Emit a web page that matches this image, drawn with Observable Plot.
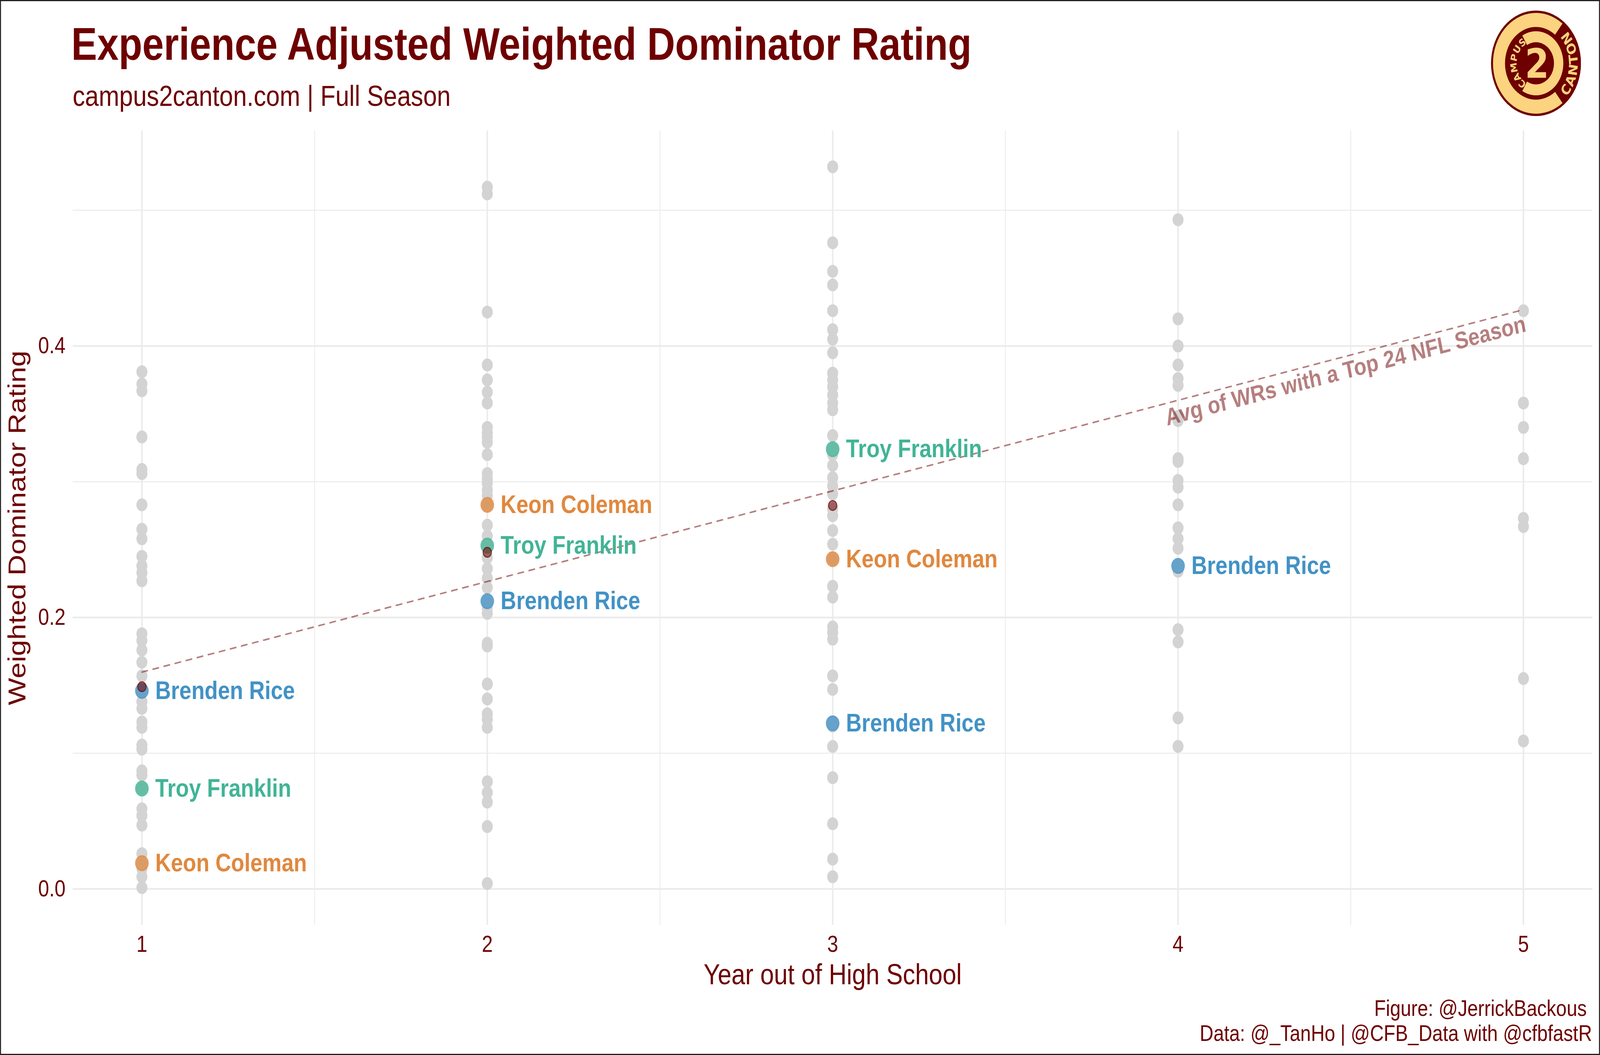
<!DOCTYPE html>
<html>
<head>
<meta charset="utf-8">
<script src="https://cdn.jsdelivr.net/npm/d3@7"></script>
<script src="https://cdn.jsdelivr.net/npm/@observablehq/plot@0.6"></script>
<style>
  html, body { margin: 0; padding: 0; background: #fff; overflow: hidden; }
  #wrap { position: relative; overflow: hidden; width: 4800px; height: 2700px; }
  #page { position: absolute; left: 0; top: 0; width: 4800px; height: 2700px; background: #fff; overflow: hidden;
          transform-origin: 0 0;
          font-family: 'Liberation Sans', Arial, Helvetica, sans-serif; color: #6e0000; }
  #frame { position: absolute; left: 0; top: 0; width: 4800px; height: 2700px; box-sizing: border-box;
           border: 3px solid #222; pointer-events: none; }
  #header { position: relative; height: 300px; }
  #title { position: absolute; left: 214px; top: 55px; font-size: 116px; font-weight: bold; line-height: 1; white-space: nowrap; }
  #subtitle { position: absolute; left: 218px; top: 209px; font-size: 74px; line-height: 1; white-space: nowrap; }
  #logo { position: absolute; left: 4473px; top: 27px; width: 270px; height: 270px; }
  #chart { height: 2240px; }
  #chart svg { display: block; }
  #footer { height: 160px; box-sizing: border-box; text-align: right; padding-right: 24px; padding-top: 8px;
            font-size: 57px; line-height: 64px; }
</style>
</head>
<body>
<div id="wrap">
<div id="page">
  <div id="header">
    <div id="title">Experience Adjusted Weighted Dominator Rating</div>
    <div id="subtitle">campus2canton.com | Full Season</div>
    <div id="logo"></div>
  </div>
  <div id="chart"></div>
  <div id="footer">Figure: @JerrickBackous&nbsp;<br>Data: @_TanHo | @CFB_Data with @cfbfastR</div>
  <div id="frame"></div>
</div>
</div>
<script>
// ---------------- data ----------------
const yearTicks = [1, 2, 3, 4, 5];
const yTicks = [0, 0.2, 0.4];
const yMinorTicks = [0.1, 0.3, 0.5];
const xMinorTicks = [1.5, 2.5, 3.5, 4.5];

// all WRs (grey) by year out of high school
const year1Values = [0.381, 0.372, 0.367, 0.333, 0.309, 0.306, 0.283, 0.265, 0.258, 0.245, 0.238, 0.233, 0.227,
  0.188, 0.183, 0.176, 0.167, 0.157, 0.146, 0.138, 0.133, 0.123, 0.119, 0.106, 0.103, 0.087, 0.084, 0.074,
  0.059, 0.054, 0.047, 0.026, 0.019, 0.015, 0.009, 0.001];
const year2Values = [0.517, 0.512, 0.425, 0.386, 0.375, 0.366, 0.358, 0.340, 0.336, 0.333, 0.329, 0.320, 0.306,
  0.302, 0.299, 0.294, 0.290, 0.283, 0.268, 0.260, 0.253, 0.244, 0.236, 0.229, 0.222, 0.212, 0.207, 0.203,
  0.181, 0.179, 0.151, 0.140, 0.129, 0.125, 0.119, 0.079, 0.071, 0.064, 0.046, 0.004];
const year3Values = [0.532, 0.476, 0.455, 0.445, 0.426, 0.412, 0.405, 0.395, 0.380, 0.375, 0.370, 0.364, 0.358,
  0.353, 0.334, 0.324, 0.320, 0.312, 0.303, 0.297, 0.291, 0.280, 0.275, 0.264, 0.254, 0.243, 0.223, 0.215,
  0.193, 0.189, 0.184, 0.157, 0.147, 0.123, 0.120, 0.105, 0.082, 0.048, 0.022, 0.009];
const year4Values = [0.493, 0.420, 0.400, 0.386, 0.376, 0.371, 0.348, 0.345, 0.317, 0.315, 0.301, 0.296, 0.283,
  0.266, 0.258, 0.251, 0.238, 0.234, 0.191, 0.182, 0.126, 0.105];
const year5Values = [0.426, 0.358, 0.340, 0.317, 0.273, 0.267, 0.155, 0.109];

// highlighted players
const playerNames = ["Brenden Rice", "Troy Franklin", "Keon Coleman"];
const riceYears = [1, 2, 3, 4];
const riceValues = [0.146, 0.212, 0.122, 0.238];
const franklinYears = [1, 2, 3];
const franklinValues = [0.074, 0.253, 0.324];
const colemanYears = [1, 2, 3];
const colemanValues = [0.019, 0.283, 0.243];

// average of WRs with a top-24 NFL season
const avgYears = [1, 2, 3];
const avgValues = [0.149, 0.248, 0.2825];
const avgLabel = "Avg of WRs with a Top 24 NFL Season";

// ---------------- styles ----------------
const maroon = "#6e0000";
const playerColors = { "Brenden Rice": "#4292c6", "Troy Franklin": "#41b496", "Keon Coleman": "#e0883f" };

// ---------------- fit the 4800x2700 page to the window ----------------
function fitPage() {
  const sx = window.innerWidth / 4800, sy = window.innerHeight / 2700;
  const wrap = document.getElementById("wrap");
  wrap.style.width = window.innerWidth + "px";
  wrap.style.height = window.innerHeight + "px";
  document.getElementById("page").style.transform = `scale(${sx}, ${sy})`;
}
fitPage();
window.addEventListener("resize", fitPage);

// ---------------- build tables ----------------
const allValues = [year1Values, year2Values, year3Values, year4Values, year5Values];
const greyPts = allValues.flatMap((vals, i) => vals.map(v => ({ year: yearTicks[i], value: v })));
const playerSeries = [[riceYears, riceValues], [franklinYears, franklinValues], [colemanYears, colemanValues]];
const playerPts = playerSeries.flatMap(([ys, vs], i) => ys.map((y, j) => ({ year: y, value: vs[j], player: playerNames[i] })));
const avgPts = avgYears.map((y, i) => ({ year: y, value: avgValues[i] }));

// linear fit through the averages, extended across all years
const mx = d3.mean(avgYears), my = d3.mean(avgValues);
const slope = d3.sum(avgYears, (x, i) => (x - mx) * (avgValues[i] - my)) / d3.sum(avgYears, x => (x - mx) ** 2);
const intercept = my - slope * mx;
const fit = x => intercept + slope * x;
const trend = d3.extent(yearTicks).map(x => ({ year: x, value: fit(x) }));

// ---------------- layout ----------------
const W = 4800, H = 2240;
const mL = 218, mR = 23, mT = 34, mB = 173;
const xDomain = [0.8, 5.2];
const yDomain = [-0.0266, 0.5586];
const pxPerX = (W - mL - mR) / (xDomain[1] - xDomain[0]);
const pxPerY = (H - mT - mB) / (yDomain[1] - yDomain[0]);
const labelAngle = -Math.atan(slope * pxPerY / pxPerX) * 180 / Math.PI;
const labelX = 4.485;
const labelAnno = [{ year: labelX, value: fit(labelX) - 0.0108, text: avgLabel }];

const chart = Plot.plot({
  width: W,
  height: H,
  marginLeft: mL, marginRight: mR, marginTop: mT, marginBottom: mB,
  style: { fontFamily: "'Liberation Sans', Arial, Helvetica, sans-serif", background: "#fff", overflow: "visible" },
  x: { domain: xDomain },
  y: { domain: yDomain },
  marks: [
    Plot.gridX(xMinorTicks, { stroke: "#ebebeb", strokeOpacity: 1, strokeWidth: 2.5 }),
    Plot.gridY(yMinorTicks, { stroke: "#ebebeb", strokeOpacity: 1, strokeWidth: 2.5 }),
    Plot.gridX(yearTicks, { stroke: "#ebebeb", strokeOpacity: 1, strokeWidth: 4.5 }),
    Plot.gridY(yTicks, { stroke: "#ebebeb", strokeOpacity: 1, strokeWidth: 4.5 }),
    Plot.axisX(yearTicks, { tickSize: 0, tickPadding: 27, fontSize: 59, color: maroon, label: null, tickFormat: d => String(d) }),
    Plot.axisY(yTicks, { tickSize: 0, tickPadding: 22, fontSize: 59, color: maroon, label: null, tickFormat: d => d.toFixed(1) }),
    Plot.text(["Year out of High School"], { frameAnchor: "bottom", dy: 128, fontSize: 74, fill: maroon, lineAnchor: "middle" }),
    Plot.text(["Weighted Dominator Rating"], { frameAnchor: "left", dx: -166, rotate: -90, fontSize: 74, fill: maroon, lineAnchor: "middle", textAnchor: "middle" }),
    Plot.dot(greyPts, { x: "year", y: "value", r: 16.5, fill: "#d3d3d3", stroke: "none" }),
    Plot.line(trend, { x: "year", y: "value", stroke: maroon, strokeOpacity: 0.5, strokeWidth: 4, strokeDasharray: "17,17" }),
    Plot.text(labelAnno, { x: "year", y: "value", text: "text", rotate: labelAngle, fontSize: 61, fontWeight: "bold", fill: maroon, fillOpacity: 0.5, textAnchor: "middle", lineAnchor: "middle" }),
    Plot.dot(playerPts, { x: "year", y: "value", r: 19, fill: d => playerColors[d.player], fillOpacity: 0.75, stroke: d => playerColors[d.player], strokeOpacity: 0.7, strokeWidth: 3 }),
    Plot.dot(avgPts, { x: "year", y: "value", r: 12.5, fill: maroon, fillOpacity: 0.55, stroke: maroon, strokeOpacity: 0.7, strokeWidth: 3 }),
    Plot.text(playerPts, { x: "year", y: "value", text: "player", dx: 40, textAnchor: "start", lineAnchor: "middle", fontSize: 65, fontWeight: "bold", fill: d => playerColors[d.player] })
  ]
});
document.getElementById("chart").appendChild(chart);

// ---------------- logo ----------------
const gold = "#fcd37f";
const deg = Math.PI / 180;
const svg = d3.select("#logo").append("svg").attr("width", 270).attr("height", 270).attr("viewBox", "0 0 270 270");
const g = svg.append("g").attr("transform", "translate(135,135)");
g.append("circle").attr("r", 135).attr("fill", maroon);
g.append("path").attr("fill", gold).attr("d", d3.arc()({ innerRadius: 93, outerRadius: 129, startAngle: 142 * deg, endAngle: 398 * deg }));
g.append("path").attr("fill", gold).attr("d", d3.arc()({ innerRadius: 54, outerRadius: 82, startAngle: -30 * deg, endAngle: 210 * deg }));
const defs = svg.append("defs");
const arcPath = (r, a0, a1, sweep) => `M${135 + r * Math.cos(a0 * deg)},${135 + r * Math.sin(a0 * deg)} A${r},${r} 0 0 ${sweep} ${135 + r * Math.cos(a1 * deg)},${135 + r * Math.sin(a1 * deg)}`;
defs.append("path").attr("id", "cantonPath").attr("d", arcPath(125, 50, -50, 0));
defs.append("path").attr("id", "campusPath").attr("d", arcPath(58, 118, 242, 1));
svg.append("text").attr("font-family", "'DejaVu Sans', sans-serif").attr("font-weight", "bold").attr("font-size", 36)
  .attr("fill", gold).attr("letter-spacing", 3)
  .append("textPath").attr("href", "#cantonPath").attr("startOffset", "50%").attr("text-anchor", "middle").text("CANTON");
svg.append("text").attr("font-family", "'DejaVu Sans', sans-serif").attr("font-weight", "bold").attr("font-size", 26)
  .attr("fill", gold)
  .append("textPath").attr("href", "#campusPath").attr("startOffset", "50%").attr("text-anchor", "middle").text("CAMPUS");
g.append("text").attr("font-family", "'DejaVu Sans', sans-serif").attr("font-weight", "bold").attr("font-size", 104)
  .attr("fill", gold).attr("text-anchor", "middle").attr("dy", "0.36em").attr("x", 3).text("2");
</script>
</body>
</html>
